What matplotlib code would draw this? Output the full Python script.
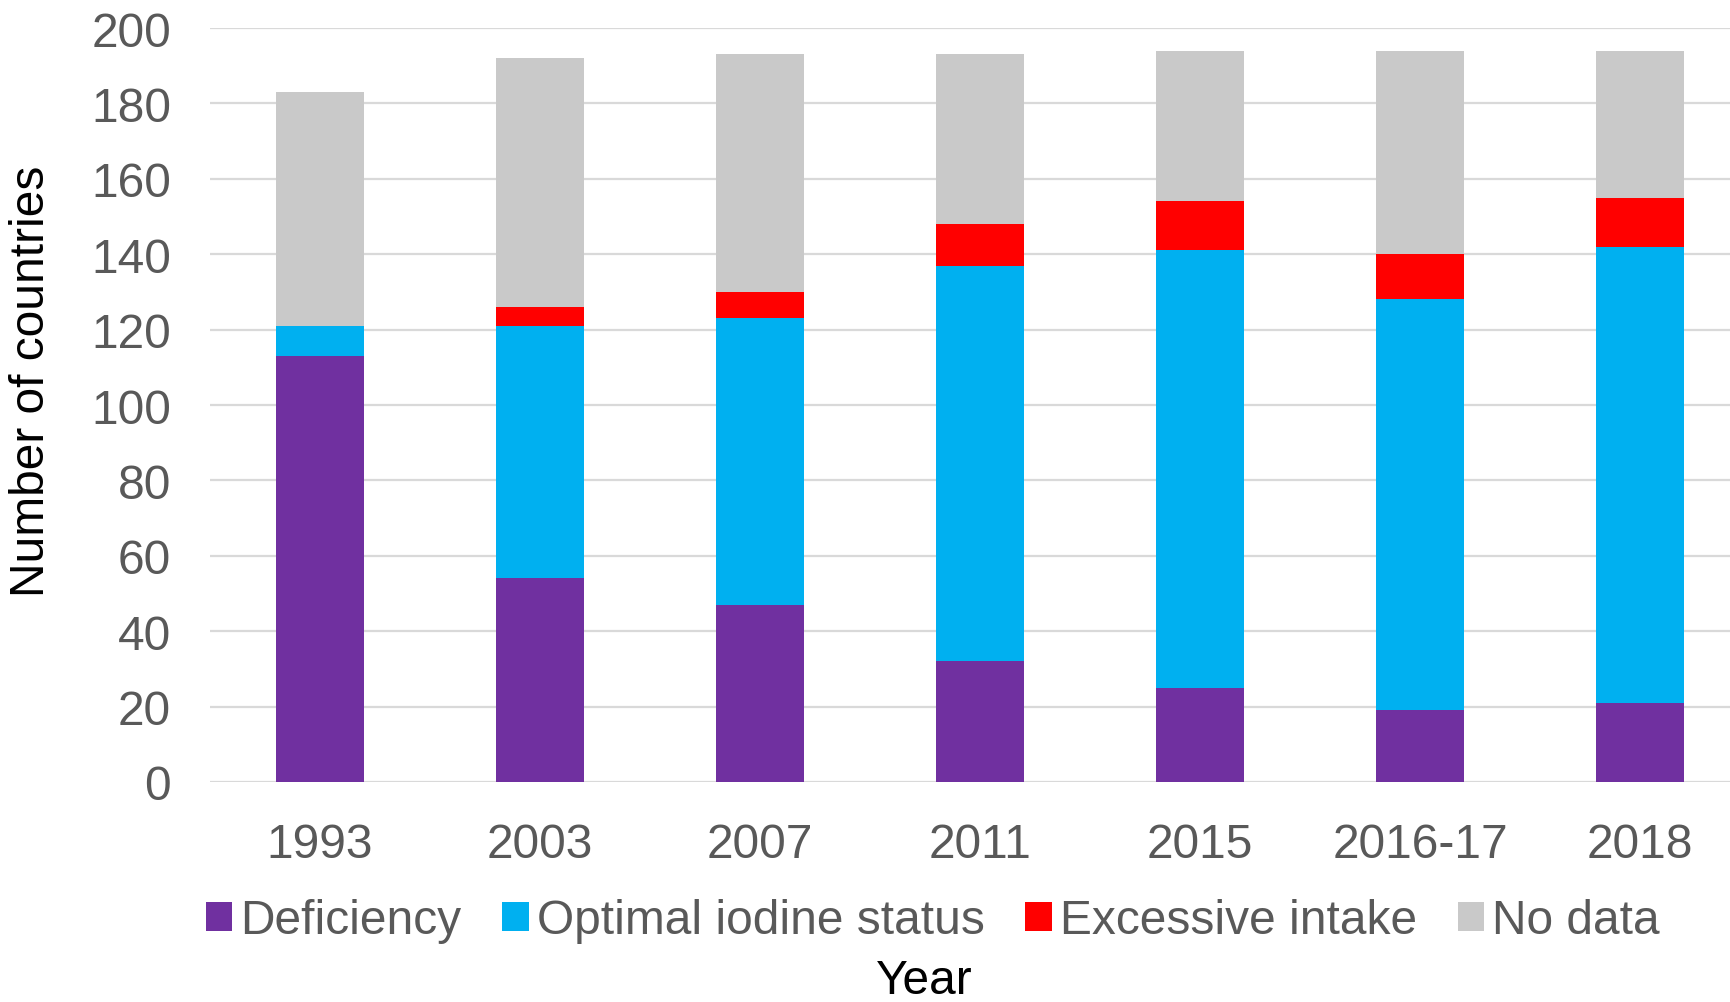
"""
Iodine status by country, stacked bars per survey year.
"""
import matplotlib
matplotlib.use("Agg")
import matplotlib.pyplot as plt
import numpy as np

plt.rcParams["font.family"] = ["Liberation Sans", "DejaVu Sans"]

YEARS       = ["1993", "2003", "2007", "2011", "2015", "2016-17", "2018"]
DEFICIENCY  = [113, 54, 47, 32, 25, 19, 21]
OPTIMAL     = [8, 67, 76, 105, 116, 109, 121]
EXCESSIVE   = [0, 5, 7, 11, 13, 12, 13]
NO_DATA     = [62, 66, 63, 45, 40, 54, 39]

SERIES = [
    ("Deficiency",             DEFICIENCY, "#7030A0"),
    ("Optimal iodine status",  OPTIMAL,    "#00B0F0"),
    ("Excessive intake",       EXCESSIVE,  "#FF0000"),
    ("No data",                NO_DATA,    "#C9C9C9"),
]
Y_TICKS = list(range(0, 201, 20))
TXT = "#595959"
FS = 34.5


def main() -> None:
    fig = plt.figure(figsize=(17.31, 10.03), dpi=100)
    ax = fig.add_axes([210 / 1731, 1 - 783 / 1003, 1540 / 1731, 754 / 1003])

    x = np.arange(len(YEARS))
    bottom = np.zeros(len(YEARS))
    handles = []
    for label, vals, color in SERIES:
        vals = np.asarray(vals, dtype=float)
        b = ax.bar(x, vals, width=0.4, bottom=bottom, color=color,
                   label=label, zorder=3, linewidth=0)
        handles.append(b)
        bottom += vals

    ax.set_xlim(-0.5, len(YEARS) - 0.5)
    ax.set_ylim(0, 200)
    ax.set_yticks(Y_TICKS)
    ax.set_xticks(x)
    ax.set_xticklabels(YEARS)
    ax.tick_params(axis="both", length=0, labelsize=FS, colors=TXT)
    ax.tick_params(axis="y", pad=28)
    ax.tick_params(axis="x", pad=29)

    ax.grid(axis="y", color="#D9D9D9", linewidth=1.6, zorder=0)
    for s in ax.spines.values():
        s.set_visible(False)

    ax.set_ylabel("Number of countries", fontsize=FS, color="black")
    ax.yaxis.set_label_coords(-0.101, 0.533)

    fig.legend(handles=handles, loc="center", ncol=4,
               bbox_to_anchor=(0.539, 1 - 922 / 1003), fontsize=FS,
               frameon=False, handlelength=0.55, handleheight=0.55,
               handletextpad=0.17, columnspacing=0.85, labelcolor=TXT,
               borderaxespad=0, borderpad=0)

    fig.text(924 / 1731, 1 - 982 / 1003, "Year", fontsize=FS,
             ha="center", va="center", color="black")

    fig.savefig("out.png", dpi=100)
    plt.close(fig)


if __name__ == "__main__":
    main()
